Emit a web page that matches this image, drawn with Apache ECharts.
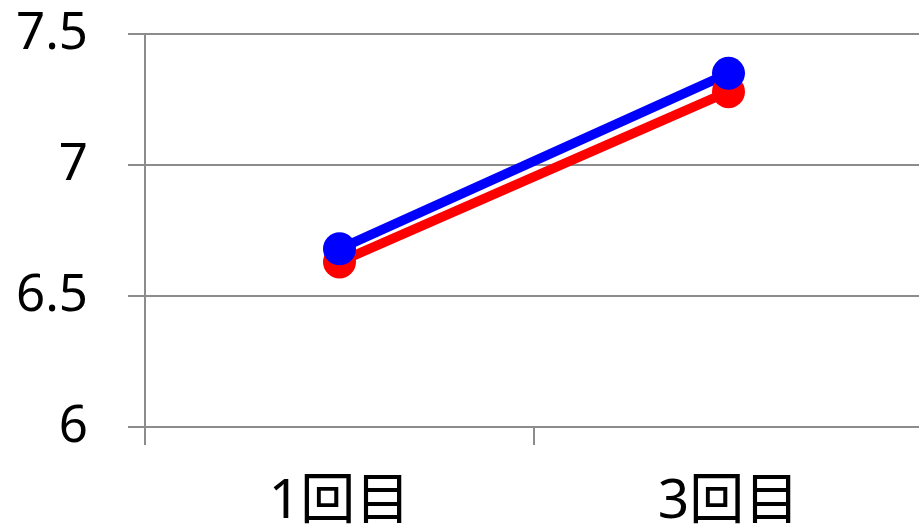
<!DOCTYPE html>
<html>
<head>
<meta charset="utf-8">
<script src="https://cdn.jsdelivr.net/npm/echarts@6/dist/echarts.min.js"></script>
<style>
  html, body { margin: 0; padding: 0; background: #ffffff; }
  #chart { width: 919px; height: 530px; }
</style>
</head>
<body>
<div id="chart"></div>
<script>
// Categories along the x axis
const categories = ['1回目', '3回目'];
// Two measured series
const redValues = [6.63, 7.28];
const blueValues = [6.68, 7.35];
// Value axis range and step
const yMin = 6;
const yMax = 7.5;
const yStep = 0.5;

const gridColor = '#8c8c8c';
const labelFont = '"Noto Sans", "Noto Sans CJK JP", sans-serif';

const chart = echarts.init(document.getElementById('chart'), null, { renderer: 'canvas' });

function lineSeries(name, data, color) {
  return {
    name: name,
    type: 'line',
    data: data,
    symbol: 'circle',
    symbolSize: 33,
    lineStyle: { color: color, width: 9.5 },
    itemStyle: { color: color },
    animation: false,
    z: 3
  };
}

chart.setOption({
  backgroundColor: '#ffffff',
  animation: false,
  grid: {
    left: 145, width: 778, top: 34, bottom: 103,
    containLabel: false,
    outerBoundsMode: 'none'
  },
  xAxis: {
    type: 'category',
    data: categories,
    boundaryGap: true,
    axisLine: { show: true, lineStyle: { color: gridColor, width: 2 } },
    axisTick: { show: true, length: 18, inside: false, lineStyle: { color: gridColor, width: 2 } },
    axisLabel: {
      margin: 48,
      color: '#000000',
      fontSize: 55,
      fontFamily: labelFont
    },
    splitLine: { show: false }
  },
  yAxis: {
    type: 'value',
    min: yMin,
    max: yMax,
    interval: yStep,
    axisLine: { show: true, lineStyle: { color: gridColor, width: 2 } },
    axisTick: { show: true, length: 17, inside: false, lineStyle: { color: gridColor, width: 2 } },
    axisLabel: {
      margin: 57,
      color: '#000000',
      fontSize: 51,
      fontFamily: labelFont,
      formatter: function (v) { return String(Math.round(v * 10) / 10); }
    },
    splitLine: { show: true, lineStyle: { color: gridColor, width: 2 } }
  },
  series: [
    lineSeries('赤', redValues, '#ff0000'),
    lineSeries('青', blueValues, '#0000ff')
  ]
});
</script>
</body>
</html>
